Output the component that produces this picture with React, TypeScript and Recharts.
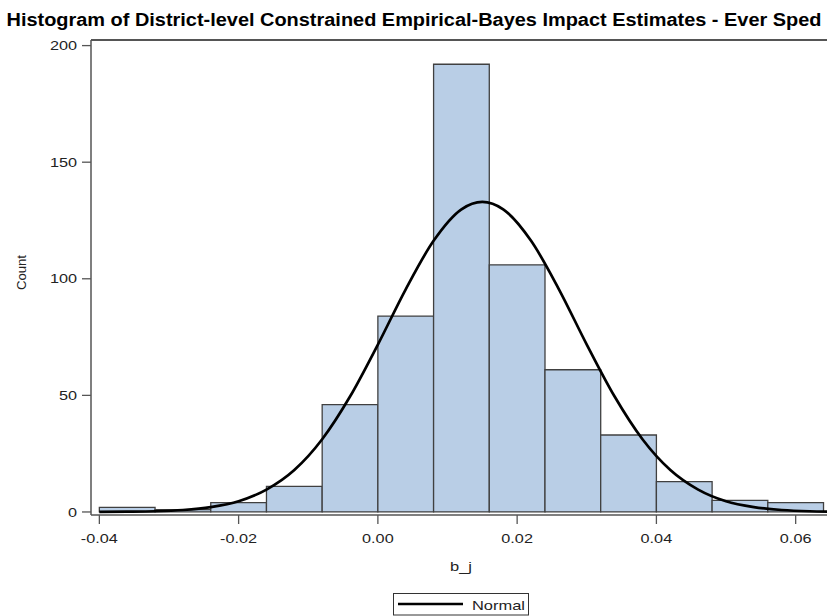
import React from 'react';
import { ComposedChart, Line, XAxis, YAxis, ReferenceArea, ReferenceLine } from 'recharts';

// Histogram bins (left/right edges) and counts
const BIN_EDGES = [-0.04, -0.032, -0.024, -0.016, -0.008, 0, 0.008, 0.016, 0.024, 0.032, 0.04, 0.048, 0.056, 0.064];
const BIN_COUNTS = [2, 1, 4, 11, 46, 84, 192, 106, 61, 33, 13, 5, 4];

// Normal curve points
const CURVE_X = [-0.04, -0.036, -0.032, -0.028, -0.024, -0.02, -0.016, -0.012, -0.008, -0.004, 0, 0.004, 0.008, 0.012, 0.015, 0.018, 0.022, 0.026, 0.03, 0.034, 0.038, 0.042, 0.046, 0.05, 0.054, 0.058, 0.062, 0.0645];
const CURVE_Y = [0.03, 0.11, 0.3, 0.85, 2.1, 4.6, 9.6, 18, 31.2, 49.5, 71.8, 95.5, 116.3, 129.8, 133, 129.8, 116.3, 95.5, 71.8, 49.5, 31.2, 18, 9.6, 4.6, 2.1, 0.85, 0.3, 0.16];

const X_TICKS = [-0.04, -0.02, 0, 0.02, 0.04, 0.06];
const Y_TICKS = [0, 50, 100, 150, 200];

const TITLE = 'Histogram of District-level Constrained Empirical-Bayes Impact Estimates - Ever Sped';
const X_LABEL = 'b_j';
const Y_LABEL = 'Count';
const LEGEND_LABEL = 'Normal';

const X_DOMAIN = [-0.0412, 0.0645];
const Y_DOMAIN = [-1.3, 202.4];

const FONT = '"Liberation Sans", Arial, Helvetica, sans-serif';
const STRETCH = 1.25;
const CHAR_W: Record<string, number> = { '-': 0.333, '.': 0.278 };
const textW = (s: string, size: number) =>
  s.split('').reduce((a, c) => a + (CHAR_W[c] !== undefined ? CHAR_W[c] : 0.556), 0) * size * STRETCH;

const curveData = CURVE_X.map((x, i) => ({ x, y: CURVE_Y[i] }));

const XTick = (props: any) => {
  const { x, y, payload } = props;
  const label = Number(payload.value).toFixed(2);
  return (
    <text x={x} y={y} dy="0.71em" textAnchor="middle" fontSize={13} fill="#222" fontFamily={FONT}
      textLength={textW(label, 13)} lengthAdjust="spacingAndGlyphs">{label}</text>
  );
};

const YTick = (props: any) => {
  const { x, y, payload } = props;
  const label = String(payload.value);
  return (
    <text x={x} y={y} dy="0.355em" textAnchor="end" fontSize={13} fill="#222" fontFamily={FONT}
      textLength={textW(label, 13)} lengthAdjust="spacingAndGlyphs">{label}</text>
  );
};

export default function App() {
  return (
    <div style={{ position: 'absolute', left: 0, top: 0, width: 827, height: 616, background: '#fff' }}>
      <div style={{ position: 'absolute', left: 0, top: 0 }}>
        <ComposedChart width={827} height={616} data={curveData} margin={{ top: 40, right: 0, bottom: 41, left: 0 }}>
          <XAxis dataKey="x" type="number" domain={X_DOMAIN} ticks={X_TICKS} allowDataOverflow
            height={60} tickSize={9} tickMargin={10} tick={<XTick />}
            axisLine={{ stroke: '#555', strokeWidth: 1.5 }} tickLine={{ stroke: '#555', strokeWidth: 1.3 }} />
          <YAxis type="number" domain={Y_DOMAIN} ticks={Y_TICKS} allowDataOverflow width={91}
            tickSize={9} tickMargin={5} tick={<YTick />}
            axisLine={{ stroke: '#555', strokeWidth: 1.5 }} tickLine={{ stroke: '#555', strokeWidth: 1.3 }} />
          <ReferenceLine y={Y_DOMAIN[1]} stroke="#555" strokeWidth={2} ifOverflow="visible" />
          {BIN_COUNTS.map((c, i) => (
            <ReferenceArea key={i} x1={BIN_EDGES[i]} x2={BIN_EDGES[i + 1]} y1={0} y2={c}
              fill="#B9CEE6" fillOpacity={1} stroke="#404040" strokeWidth={1.3} ifOverflow="visible" />
          ))}
          <Line dataKey="y" type="monotone" stroke="#000" strokeWidth={2.7} dot={false} activeDot={false}
            isAnimationActive={false} />
        </ComposedChart>
      </div>
      <svg width={827} height={616} style={{ position: 'absolute', left: 0, top: 0, pointerEvents: 'none' }}>
        <text x={414} y={26} textAnchor="middle" fontSize={18} fontWeight="bold" fill="#000" fontFamily={FONT}
          textLength={815} lengthAdjust="spacingAndGlyphs">{TITLE}</text>
        <text x={461} y={571} textAnchor="middle" fontSize={13} fill="#222" fontFamily={FONT}
          textLength={22} lengthAdjust="spacingAndGlyphs">{X_LABEL}</text>
        <text transform="translate(26,272.5) rotate(-90)" textAnchor="middle" fontSize={13.5} fill="#222"
          fontFamily={FONT} textLength={35} lengthAdjust="spacingAndGlyphs">{Y_LABEL}</text>
        <rect x={393.5} y={593.5} width={135} height={21.5} fill="#fff" stroke="#333" strokeWidth={1} />
        <line x1={398} y1={604} x2={463} y2={604} stroke="#000" strokeWidth={2.6} />
        <text x={472} y={610} fontSize={13} fill="#222" fontFamily={FONT}
          textLength={53} lengthAdjust="spacingAndGlyphs">{LEGEND_LABEL}</text>
      </svg>
    </div>
  );
}
